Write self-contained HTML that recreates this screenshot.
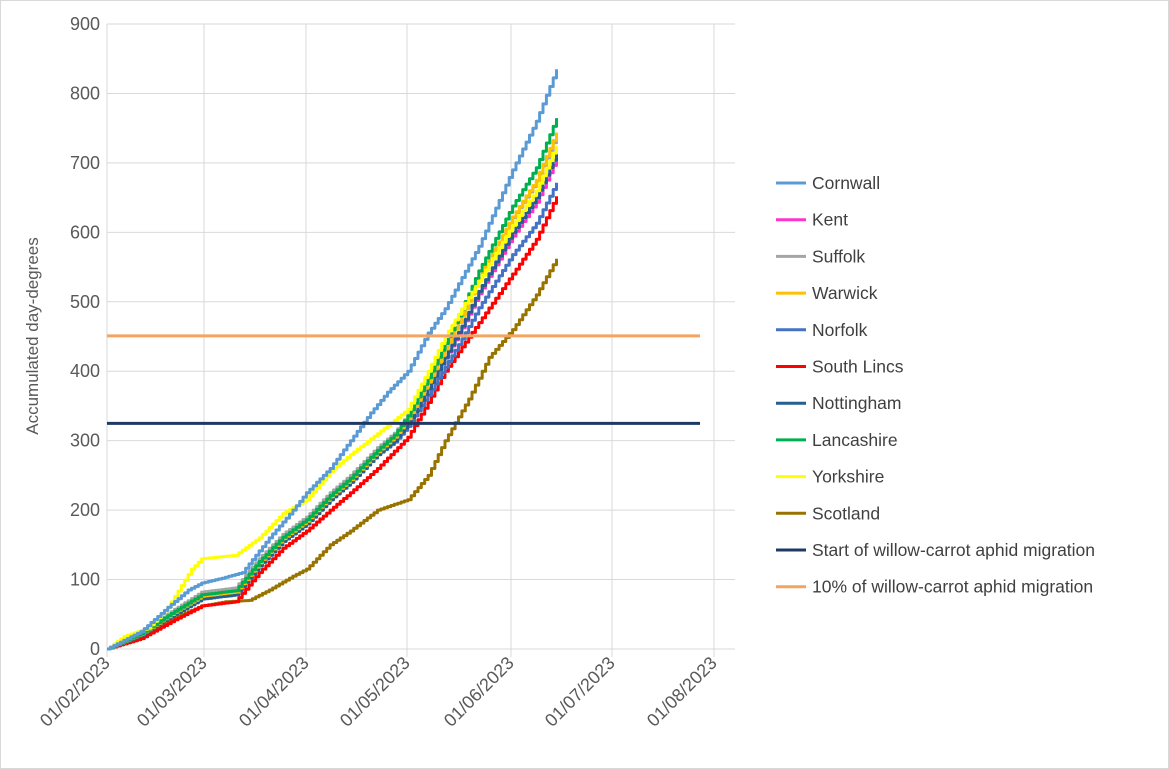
<!DOCTYPE html><html><head><meta charset="utf-8"><style>
body{margin:0;background:#fff;font-family:"Liberation Sans",sans-serif}
</style></head><body>
<svg id="s" width="1169" height="769" xmlns="http://www.w3.org/2000/svg" style="display:block">
<rect x="0.5" y="0.5" width="1168" height="768" fill="#fff" stroke="#d9d9d9"/>
<g id="grid" stroke="#d9d9d9" stroke-width="1"></g>
<g id="lines" fill="none" stroke-width="3" stroke-linejoin="round"></g>
<g id="txt" font-size="18" fill="#595959"></g>
<text transform="translate(38,336) rotate(-90)" text-anchor="middle" font-size="17" fill="#595959">Accumulated day-degrees</text>
<g id="leg" font-size="17.5" fill="#404040"></g>
</svg>
<script>
const NS="http://www.w3.org/2000/svg";
function el(p,t,a,txt){const e=document.createElementNS(NS,t);for(const k in a)e.setAttribute(k,a[k]);if(txt)e.textContent=txt;document.getElementById(p).appendChild(e);return e;}
const Y=v=>649-v*0.6944, X0=107, PD=3.38, X=d=>X0+d*PD;
const ticks=[107,204,306,407,511,612,714];
for(let v=0;v<=900;v+=100){el('grid','line',{x1:107,x2:735,y1:Y(v),y2:Y(v)});el('txt','text',{x:100,y:Y(v)+6,'text-anchor':'end'},String(v));}
const labs=["01/02/2023","01/03/2023","01/04/2023","01/05/2023","01/06/2023","01/07/2023","01/08/2023"];
ticks.forEach((x,i)=>{el('grid','line',{x1:x,x2:x,y1:24,y2:657});el('txt','text',{transform:`translate(${x+4},${664}) rotate(-45)`,'text-anchor':'end'},labs[i]);});
const base=[[0,0],[10,20],[20,50],[28,72],[38,78],[45,120],[52,155],[59,180],[66,215],[72,240],[80,280],[85,300],[89,325],[95,375],[100,420],[105,465],[110,515],[120,600],[127,650],[133,715]];
function gen(k,off){return base.map(([d,v])=>[d,v+off*Math.min(1,d/28)+(d>80?(v-280)*k:0)]);}
const S=[
["Cornwall","#5b9bd5",[[0,0],[10,25],[18,60],[24,85],[28,95],[34,102],[40,110],[48,160],[55,200],[59,225],[66,260],[72,300],[78,340],[83,370],[89,400],[95,455],[100,490],[110,580],[120,690],[127,760],[133,835]]],
["Kent","#ff33cc",gen(-0.023,2)],
["Suffolk","#a5a5a5",gen(0.035,10)],
["Warwick","#ffc000",gen(0.057,4)],
["Norfolk","#4472c4",gen(-0.1,0)],
["South Lincs","#ff0000",[[0,0],[10,15],[20,42],[28,62],[38,68],[45,110],[52,145],[59,170],[66,200],[72,225],[80,260],[85,285],[89,305],[95,355],[100,400],[110,470],[120,540],[127,590],[133,652]]],
["Nottingham","#255e91",gen(0,0)],
["Lancashire","#00b050",gen(0.1,6)],
["Yorkshire","#ffff00",[[0,0],[5,18],[12,30],[18,60],[25,115],[28,130],[38,135],[45,160],[52,195],[59,215],[66,255],[72,280],[80,310],[89,345],[95,400],[100,450],[110,530],[120,610],[127,660],[133,725]]],
["Scotland","#997300",[[0,0],[10,15],[20,45],[28,62],[35,68],[42,70],[48,85],[55,105],[59,115],[66,150],[72,170],[80,200],[89,215],[95,250],[100,300],[107,360],[113,420],[120,460],[127,510],[133,562]]]
];
[S[9],S[5],S[4],S[1],S[6],S[2],S[3],S[7],S[8],S[0]].forEach(([n,c,pts])=>{
 let d="";let prev=null;
 for(let i=0;i<pts.length-1;i++){const [d0,v0]=pts[i],[d1,v1]=pts[i+1];for(let t=d0;t<d1;t++){const v=v0+(v1-v0)*(t-d0)/(d1-d0);const x=X(t),y=Y(v);d+=(d?" L":"M")+x.toFixed(1)+","+(prev===null?y:prev).toFixed(1)+" L"+x.toFixed(1)+","+y.toFixed(1);prev=y;}}
 const [dl,vl]=pts[pts.length-1];d+=" L"+X(dl).toFixed(1)+","+prev.toFixed(1)+" L"+X(dl).toFixed(1)+","+Y(vl).toFixed(1);
 el('lines','path',{d,stroke:c});
});
el('lines','line',{x1:107,x2:700,y1:Y(325),y2:Y(325),stroke:"#203864"});
el('lines','line',{x1:107,x2:700,y1:Y(451),y2:Y(451),stroke:"#f4a460"});
const L=S.map(s=>[s[0],s[1]]).concat([["Start of willow-carrot aphid migration","#203864"],["10% of willow-carrot aphid migration","#f4a460"]]);
L.forEach(([n,c],i)=>{const y=183+i*36.7;el('leg','line',{x1:776,x2:806,y1:y,y2:y,stroke:c,'stroke-width':3});el('leg','text',{x:812,y:y+6},n);});
</script>
</body></html>
